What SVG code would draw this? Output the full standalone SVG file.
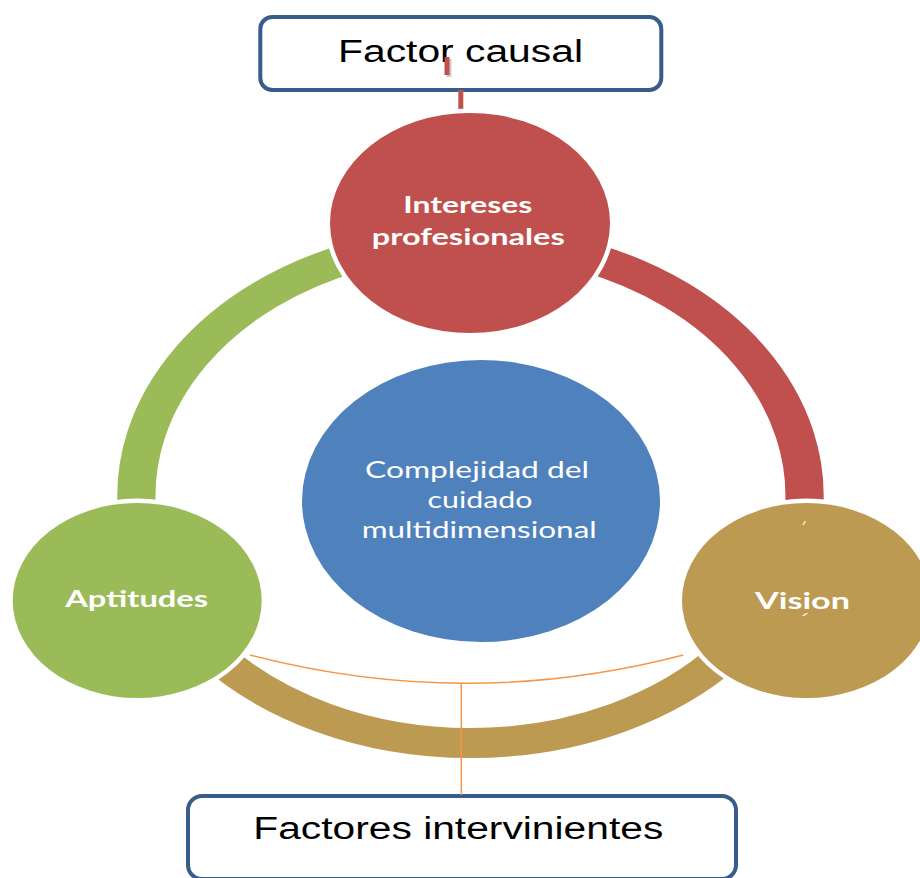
<svg xmlns="http://www.w3.org/2000/svg" width="920" height="878" viewBox="0 0 920 878">
<style>
.box{fill:#fff;stroke:#385D8A;stroke-width:4}
.boxtxt{font-family:"Liberation Sans",Arial,sans-serif;font-size:31px;fill:#000;text-anchor:middle}
.halo{fill:#fff}
.lbl{font-family:Lato,"Open Sans",sans-serif;fill:#fff;text-anchor:middle;font-size:23px}
.b{font-weight:bold}
.band{fill:none;stroke-width:30}
.thin{fill:none;stroke:#F79646;stroke-width:1.5}
</style>
<rect width="920" height="878" fill="#fff"/>
<g id="box-factor-causal">
  <rect class="box" x="260.3" y="17" width="401" height="73" rx="12"/>
  <text class="boxtxt" x="460.5" y="62" textLength="245" lengthAdjust="spacingAndGlyphs">Factor causal</text>
</g>
<g id="box-factores-intervinientes">
  <rect class="box" x="188" y="796" width="548" height="83" rx="14"/>
  <text class="boxtxt" x="458.3" y="839.3" font-size="30" textLength="410" lengthAdjust="spacingAndGlyphs">Factores intervinientes</text>
</g>
<g id="connectors">
  <g transform="scale(1.275,1)">
    <path class="band" stroke="#9BBB59" d="M107.6,513.8 A262,255 0 0 1 279.4,256.3"/>
    <path class="band" stroke="#C0504D" d="M458.6,256.3 A262,255 0 0 1 630.4,513.8"/>
    <path class="band" stroke="#BD9A52" d="M569.7,654.8 A262,247 0 0 1 168.3,654.8"/>
  </g>
  <path class="thin" d="M250,655 Q466.5,711.6 683.3,655"/>
  <line class="thin" x1="461.3" y1="683.3" x2="461.3" y2="795"/>
  <line x1="460.8" y1="90" x2="460.8" y2="112" stroke="#C0504D" stroke-width="5"/>
  <rect x="446.5" y="59" width="5" height="18" fill="#999" opacity="0.5"/>
  <rect x="444.5" y="57" width="5" height="18" fill="#C0504D"/>
</g>
<g id="node-intereses">
  <ellipse class="halo" cx="470" cy="223" rx="144.5" ry="114.5"/>
  <ellipse cx="470" cy="223" rx="140" ry="110" fill="#C0504D"/>
  <text class="lbl b" x="467.8" y="213.3" textLength="129" lengthAdjust="spacingAndGlyphs">Intereses</text>
  <text class="lbl b" x="468.3" y="245" textLength="193" lengthAdjust="spacingAndGlyphs">profesionales</text>
</g>
<g id="node-complejidad">
  <ellipse cx="481" cy="501" rx="179" ry="141" fill="#4F81BD"/>
  <text class="lbl" x="477" y="478.3" textLength="224" lengthAdjust="spacingAndGlyphs">Complejidad del</text>
  <text class="lbl" x="480" y="508.3" textLength="105" lengthAdjust="spacingAndGlyphs">cuidado</text>
  <text class="lbl" x="479.2" y="537.7" textLength="235" lengthAdjust="spacingAndGlyphs">multidimensional</text>
</g>
<g id="node-aptitudes">
  <ellipse class="halo" cx="137.2" cy="600.5" rx="129" ry="102"/>
  <ellipse cx="137.2" cy="600.5" rx="124.5" ry="97.5" fill="#9BBB59"/>
  <text class="lbl b" x="136.7" y="606.7" font-size="24" textLength="143" lengthAdjust="spacingAndGlyphs">Aptitudes</text>
</g>
<g id="node-vision">
  <ellipse class="halo" cx="806.5" cy="600.5" rx="129" ry="102"/>
  <ellipse cx="806.5" cy="600.5" rx="124.5" ry="97.5" fill="#BD9A52"/>
  <text class="lbl b" x="802.5" y="609" font-size="24" textLength="95" lengthAdjust="spacingAndGlyphs">Vision</text>
  <line x1="803" y1="525" x2="805.5" y2="521" stroke="#fff" stroke-width="1.2"/>
  <line x1="802.7" y1="616" x2="807.3" y2="613.3" stroke="#fff" stroke-width="1.2"/>
</g>
</svg>
